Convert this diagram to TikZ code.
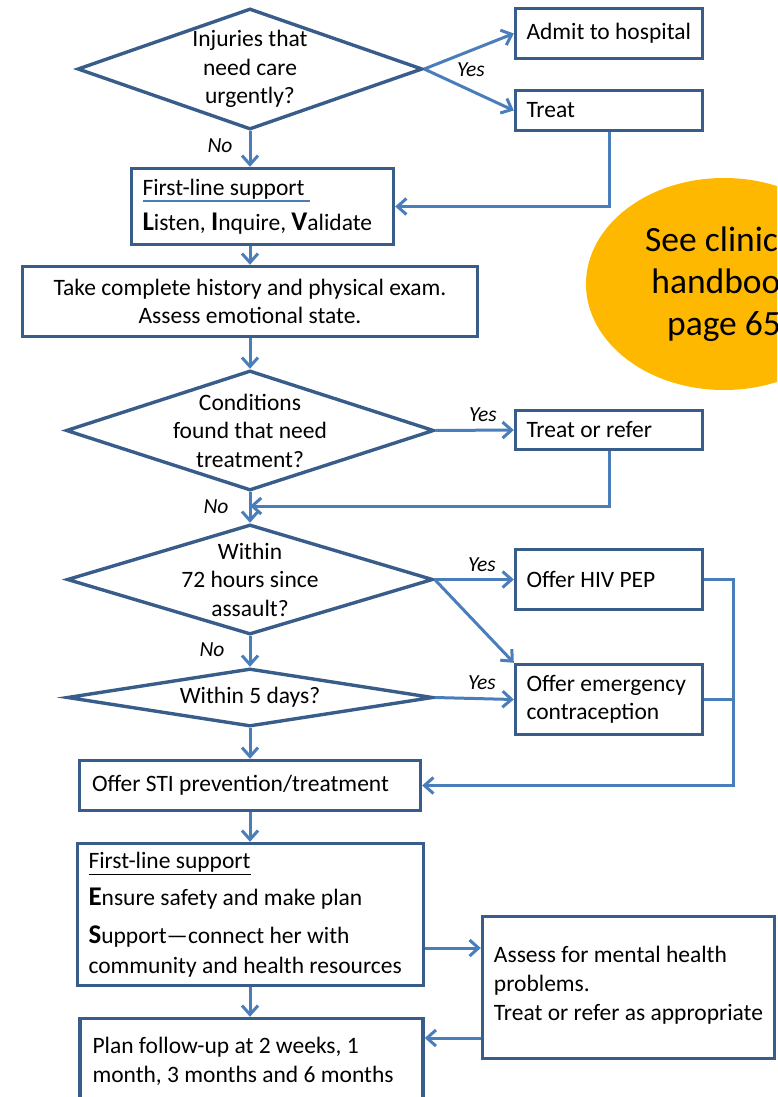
\documentclass[tikz,border=0pt]{standalone}
\usepackage{fontspec}
\setmainfont{Carlito}
\usepackage{tikz}
\usetikzlibrary{shapes.geometric,arrows.meta}

\definecolor{boxblue}{RGB}{56,93,138}
\definecolor{arrowblue}{RGB}{74,126,187}
\definecolor{handbookorange}{RGB}{255,184,0}

\newcommand{\bigini}[1]{{\fontsize{27}{27}\selectfont\bfseries #1}}
\newsavebox{\ulbox}
\newcommand{\blueunder}[1]{\sbox\ulbox{#1}\rlap{\textcolor{arrowblue}{\rule[-7pt]{\dimexpr\wd\ulbox+5pt\relax}{1.6pt}}}\usebox\ulbox}

\tikzset{
  box/.style={draw=boxblue, line width=3.4pt, rectangle, inner xsep=11pt, inner ysep=0pt, align=flush left},
  decision/.style={draw=boxblue, line width=3.4pt, diamond, inner sep=0pt},
  arrow/.style={draw=arrowblue, line width=3pt, -{Straight Barb[length=9pt,width=16pt]}},
  line/.style={draw=arrowblue, line width=3pt},
  answer/.style={font=\fontsize{21.5}{24}\selectfont\itshape}
}

\begin{document}
\begin{tikzpicture}[x=1pt, y=-1pt, font=\fontsize{23.5}{28.5}\selectfont]
\useasboundingbox (0,0) rectangle (777,1097);
\clip (0,0) rectangle (777,1097);
% Urgent care
\node[decision, minimum width=345, minimum height=121, label={[align=center]center:{Injuries that\\need care\\urgently?}}] (injuries) at (250,69) {};
\node[box, minimum width=187, minimum height=50, text width=165] (admit) at (609,33.5) {\mbox{Admit to hospital}};
\node[box, minimum width=187, minimum height=40, text width=165] (treat) at (609,110.5) {Treat};
% First-line support
\node[box, minimum width=262, minimum height=76, text width=240] (listen) at (262.5,206.5) {\blueunder{First-line support}\\[7pt]\bigini{L}isten, \bigini{I}nquire, \bigini{V}alidate};
\node[box, minimum width=455, minimum height=70, align=center] (exam) at (250,301.5) {Take complete history and physical exam.\\Assess emotional state.};
% See handbook
\node[ellipse, fill=handbookorange, minimum width=276, minimum height=212, align=center, font=\fontsize{35.5}{42}\selectfont] (handbook) at (724,284) {See clinical\\handbook\\page 65};
% Conditions
\node[decision, minimum width=368, minimum height=120, label={[align=center]center:{Conditions\\found that need\\treatment?}}] (conditions) at (250,430.5) {};
\node[box, minimum width=187, minimum height=39, text width=165] (refer) at (609,430) {Treat or refer};
\coordinate (merge-1) at (250,506);
% 72 hours and 5 days
\node[decision, minimum width=366, minimum height=110, label={[align=center]center:{Within\\72 hours since\\assault?}}] (hours) at (250,579.5) {};
\node[box, minimum width=187, minimum height=60, text width=165] (pep) at (609,579.5) {Offer HIV PEP};
\node[decision, minimum width=366, minimum height=58, label={center:Within 5 days?}] (days) at (250,697.5) {};
\node[box, minimum width=187, minimum height=70, text width=165] (contraception) at (609,699.5) {Offer emergency\\contraception};
\coordinate (bus) at (733,579.5);
% STI and follow-up
\node[box, minimum width=341, minimum height=50, inner xsep=12.5pt, text width=316] (sti) at (250,785.5) {Offer STI prevention/treatment};
\node[box, minimum width=346, minimum height=142, inner xsep=11pt, text width=324, font=\fontsize{23.5}{29.5}\selectfont] (safety) at (250.5,914.5) {\underline{First-line support}\\[7pt]\bigini{E}nsure safety and make plan\\[9pt]\bigini{S}upport—connect her with\\community and health resources};
\node[box, minimum width=292, minimum height=142, inner xsep=0pt, font=\fontsize{23.5}{29}\selectfont] (mental) at (628.5,987.5) {Assess for mental health\\problems.\\Treat or refer as appropriate\\[-21pt]};
\node[box, minimum width=343, minimum height=86, inner xsep=12.5pt, text width=318] (plan) at (251.5,1061.5) {Plan follow-up at 2 weeks, 1\\month, 3 months and 6 months};
\coordinate (mental-out) at ([yshift=-33.5pt]safety.east);
\coordinate (mental-back) at ([yshift=-50.5pt]mental.west);
% Connectors
\draw[arrow] (injuries.east) -- (admit.west);
\draw[arrow] (injuries.east) -- (treat.west);
\draw[arrow] (injuries.south) -- (injuries.south |- listen.north);
\draw[arrow] (treat.south) |- (listen.east);
\draw[arrow] (injuries.south |- listen.south) -- (injuries.south |- exam.north);
\draw[arrow] (exam.south) -- (conditions.north);
\draw[arrow] (conditions.east) -- (refer.west);
\draw[arrow] (conditions.south) -- (hours.north);
\draw[arrow] (refer.south) |- (merge-1);
\draw[arrow] (hours.east) -- (pep.west);
\draw[arrow] (hours.east) -- (contraception.north west);
\draw[arrow] (hours.south) -- (days.north);
\draw[arrow] (days.east) -- (contraception.west);
\draw[arrow] (pep.east) -- (bus) |- (sti.east);
\draw[line] (contraception.east) -- (contraception.east -| bus);
\draw[arrow] (days.south) -- (sti.north);
\draw[arrow] (sti.south) -- (sti.south |- safety.north);
\draw[arrow] (mental-out) -- (mental-out -| mental.west);
\draw[arrow] (sti.south |- safety.south) -- (sti.south |- plan.north);
\draw[arrow] (mental-back) -- (mental-back -| plan.east);
% Yes / No
\node[answer] (yes-1) at (471,70) {Yes};
\node[answer] (no-1) at (220,146) {No};
\node[answer] (yes-2) at (483,415) {Yes};
\node[answer] (no-2) at (216,507) {No};
\node[answer] (yes-3) at (482,565) {Yes};
\node[answer] (no-3) at (212,650) {No};
\node[answer] (yes-4) at (482,683) {Yes};
\end{tikzpicture}
\end{document}
